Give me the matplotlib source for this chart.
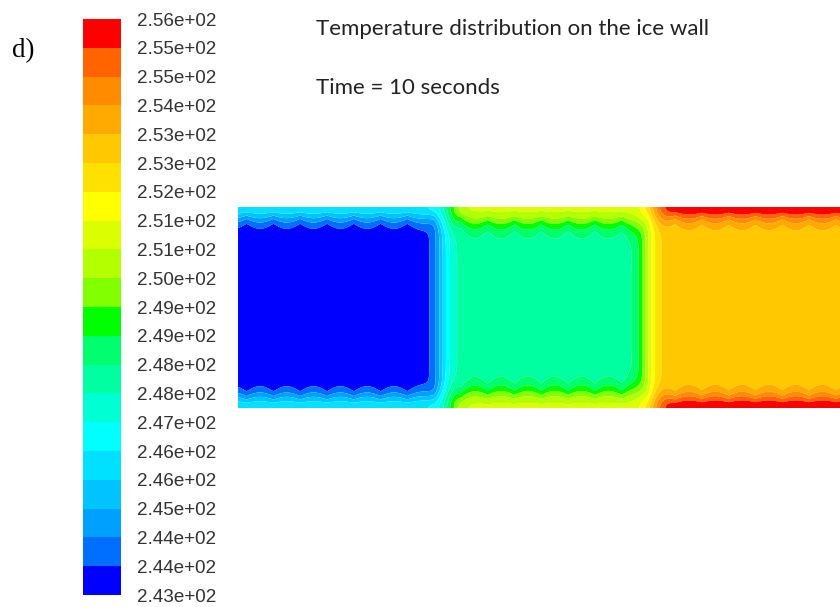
import numpy as np
import matplotlib
matplotlib.use("Agg")
import matplotlib.pyplot as plt

# Legend range (K) and the printed level labels, bottom to top
t_min = 243.06
t_max = 255.86
level_labels = ["2.43e+02", "2.44e+02", "2.44e+02", "2.45e+02", "2.46e+02",
                "2.46e+02", "2.47e+02", "2.48e+02", "2.48e+02", "2.49e+02",
                "2.49e+02", "2.50e+02", "2.51e+02", "2.51e+02", "2.52e+02",
                "2.53e+02", "2.53e+02", "2.54e+02", "2.55e+02", "2.55e+02",
                "2.56e+02"]

# Banded rainbow palette, coldest first
band_colors = ["#0000ff", "#006eff", "#00a0ff", "#00c3ff", "#00e1ff",
               "#00ffff", "#00ffd2", "#00ffa0", "#00ff6e", "#00ff00",
               "#82ff00", "#b4ff00", "#dcff00", "#ffff00", "#ffe100",
               "#ffc800", "#ffaa00", "#ff8c00", "#ff6400", "#ff0000"]

# Ice wall made of three freezing blocks (lengths in block units)
block_edges = [0.0, 1.0, 2.0, 3.0]
core_temp = [243.3, 247.85, 253.0]     # K, block interior
wall_temp = [246.1, 250.9, 255.8]      # K, upper / lower faces
layer_depth = [0.0587, 0.080, 0.0587]  # boundary layer thickness per block
wall_height = 0.983
view_length = 2.944

# Shape of the thermal layers
core_blend = 0.055         # width of the block-to-block transition
face_shift = 0.03          # face transition sits slightly downstream
face_blend = 0.06
ripple_period = 0.131      # spacing of the freeze-pipe ripples
ripple_phase = 0.1076
ripple_gain = 0.3


def step(z):
    return 0.5 * (1.0 + np.tanh(z))


x = np.linspace(0.0, view_length, 1500)
y = np.linspace(0.0, wall_height, 520)
X, Y = np.meshgrid(x, y)

t_core = np.full_like(X, core_temp[0])
t_face = np.full_like(X, wall_temp[0])
depth0 = np.full_like(X, layer_depth[0])
for i in range(1, len(core_temp)):
    edge = block_edges[i]
    s_core = step((X - edge) / core_blend)
    t_core += (core_temp[i] - core_temp[i - 1]) * s_core
    depth0 += (layer_depth[i] - layer_depth[i - 1]) * s_core
    t_face += (wall_temp[i] - wall_temp[i - 1]) * step((X - edge - face_shift) / face_blend)

depth = np.minimum(Y, wall_height - Y)
delta = depth0 * (1.0 + ripple_gain *
                  np.abs(np.cos(np.pi * (X - ripple_phase) / ripple_period)))
weight = np.exp(-(depth / delta) ** 2)
T = t_core + (t_face - t_core) * weight
T = np.clip(T, t_min + 1e-6, t_max - 1e-6)

levels = np.linspace(t_min, t_max, len(level_labels))

W, H = 840, 607
fig = plt.figure(figsize=(W / 100, H / 100), dpi=100)

ax = fig.add_axes([238 / W, (H - 408) / H, (W - 238) / W, 201 / H])
cs = ax.contourf(X, Y, T, levels=levels, colors=band_colors, antialiased=True)
ax.set_xlim(0, view_length)
ax.set_ylim(0, wall_height)
ax.axis("off")

cax = fig.add_axes([83 / W, (H - 595) / H, 38 / W, 576 / H])
cbar = fig.colorbar(cs, cax=cax, ticks=levels)
cbar.outline.set_visible(False)
cbar.ax.set_yticklabels(level_labels)
cax.tick_params(length=0, pad=11.5, labelsize=13.6, labelcolor="#333333")
for lab in cax.get_yticklabels():
    lab.set_fontfamily("Liberation Sans")

fig.text(12 / W, 1 - 57 / H, "d)", fontsize=19.4, family="Liberation Serif",
         ha="left", va="baseline")
fig.text(316 / W, 1 - 35 / H, "Temperature distribution on the ice wall",
         fontsize=16, family="Lato", ha="left", va="baseline", color="#222222")
fig.text(316 / W, 1 - 94.3 / H, "Time = 10 seconds",
         fontsize=16, family="Lato", ha="left", va="baseline", color="#222222")

fig.savefig("out.png", dpi=100)
